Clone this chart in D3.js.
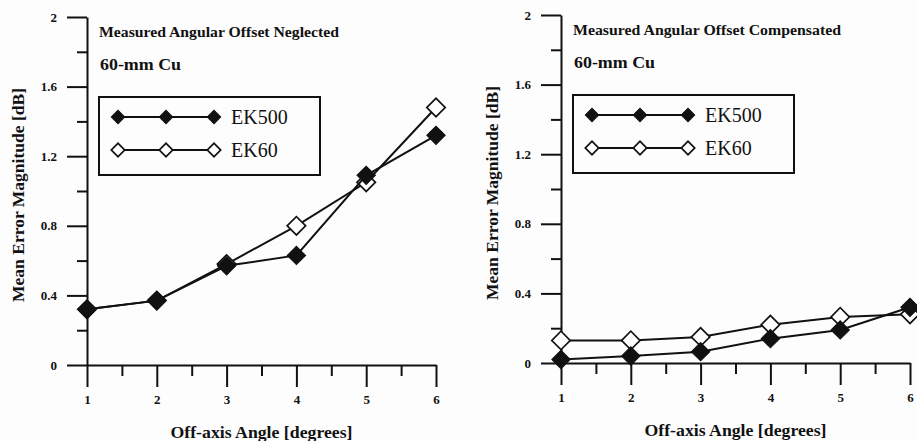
<!DOCTYPE html>
<html lang="en">
  <head>
    <meta charset="utf-8" />
    <title>Mean error magnitude vs off-axis angle</title>
    <style>
      html,
      body {
        margin: 0;
        background: #fdfdfd;
      }

      svg {
        display: block;
      }
    </style>
    <script src="https://d3js.org/d3.v7.min.js"></script>
  </head>
  <body>
    <svg width="917" height="441"></svg>

    <script>
      // values
      var angles = [1, 2, 3, 4, 5, 6];
      var neglectedEK500 = [0.32, 0.37, 0.57, 0.63, 1.09, 1.32];
      var neglectedEK60 = [0.32, 0.37, 0.58, 0.80, 1.05, 1.48];
      var compensatedEK500 = [0.02, 0.04, 0.065, 0.14, 0.19, 0.32];
      var compensatedEK60 = [0.13, 0.13, 0.15, 0.22, 0.265, 0.28];

      var seriesNames = ['EK500', 'EK60'];
      var yTicks = [0, 0.2, 0.4, 0.6, 0.8, 1, 1.2, 1.4, 1.6, 1.8, 2];
      var xTicks = [1, 1.5, 2, 2.5, 3, 3.5, 4, 4.5, 5, 5.5, 6];

      var panels = [
        { title: 'Measured Angular Offset Neglected', titleLen: 240,
          ek500: neglectedEK500, ek60: neglectedEK60,
          left: 87, right: 436, bottom: 365, top: 17 },
        { title: 'Measured Angular Offset Compensated', titleLen: 268,
          ek500: compensatedEK500, ek60: compensatedEK60,
          left: 561, right: 910, bottom: 363, top: 15 }
      ];

      var FONT = '"Liberation Serif", "Times New Roman", serif';
      var svg = d3.select('svg');

      function fmt(v) {
        return v === 0 ? '0' : v === 2 ? '2' : d3.format('.1f')(v);
      }

      function isMajorY(v) {
        return Math.abs(v / 0.4 - Math.round(v / 0.4)) < 1e-6;
      }

      function label(g, txt, size, bold) {
        return g.append('text')
          .style('font-family', FONT)
          .style('font-size', size + 'px')
          .style('font-weight', bold ? 'bold' : 'normal')
          .attr('fill', '#111')
          .text(txt);
      }

      function drawMarkers(g, pts, filled, size) {
        g.selectAll(null)
          .data(pts)
          .enter().append('path')
          .attr('d', d3.symbol(d3.symbolSquare, size))
          .attr('transform', function(d) {
            return 'translate(' + d[0] + ',' + d[1] + ') rotate(45)';
          })
          .attr('fill', filled ? '#111' : '#fff')
          .attr('stroke', '#111')
          .attr('stroke-width', filled ? 1 : 1.7);
      }

      panels.forEach(function(p) {
        var x = d3.scaleLinear().domain([1, 6]).range([p.left, p.right]);
        var y = d3.scaleLinear().domain([0, 2]).range([p.bottom, p.top]);
        var g = svg.append('g');

        // y axis: long labelled ticks every 0.4, short ones between
        var yAxis = g.append('g')
          .attr('transform', 'translate(' + p.left + ',0)')
          .call(d3.axisLeft(y).tickValues(yTicks).tickSizeOuter(0).tickFormat(fmt));
        yAxis.selectAll('.tick line')
          .attr('x2', function(d) { return isMajorY(d) ? -20 : -10; });
        yAxis.selectAll('.tick text')
          .attr('x', -30)
          .text(function(d) { return isMajorY(d) ? fmt(d) : ''; });

        // x axis: ticks hang below the line
        var xAxis = g.append('g')
          .attr('transform', 'translate(0,' + p.bottom + ')')
          .call(d3.axisBottom(x).tickValues(xTicks).tickSizeOuter(0).tickFormat(d3.format('d')));
        xAxis.selectAll('.tick line')
          .attr('y2', function(d) { return d % 1 === 0 ? 22 : 11; });
        xAxis.selectAll('.tick text')
          .attr('y', 34)
          .attr('dy', '0.35em')
          .text(function(d) { return d % 1 === 0 ? d : ''; });

        g.selectAll('.domain, .tick line')
          .attr('stroke', '#111')
          .attr('stroke-width', 2);
        g.selectAll('.tick text')
          .attr('fill', '#111')
          .style('font-family', FONT)
          .style('font-weight', 'bold')
          .style('font-size', '13px');

        // axis titles
        label(g, 'Off-axis Angle [degrees]', 17, true)
          .attr('x', (p.left + p.right) / 2)
          .attr('y', p.bottom + 67)
          .attr('dy', '0.35em')
          .attr('text-anchor', 'middle')
          .attr('textLength', 182)
          .attr('lengthAdjust', 'spacingAndGlyphs');

        label(g, 'Mean Error Magnitude [dB]', 17, true)
          .attr('transform', 'translate(' + (p.left - 69) + ',' + (p.top + 178) + ') rotate(-90)')
          .attr('dy', '0.35em')
          .attr('text-anchor', 'middle')
          .attr('textLength', 214)
          .attr('lengthAdjust', 'spacingAndGlyphs');

        // panel notes
        label(g, p.title, 14, true)
          .attr('x', p.left + 12)
          .attr('y', p.top + 20)
          .attr('textLength', p.titleLen)
          .attr('lengthAdjust', 'spacingAndGlyphs');

        label(g, '60-mm Cu', 17, true)
          .attr('x', p.left + 13)
          .attr('y', p.top + 53)
          .attr('textLength', 81)
          .attr('lengthAdjust', 'spacingAndGlyphs');

        // series, EK60 underneath
        var line = d3.line()
          .x(function(d) { return x(d[0]); })
          .y(function(d) { return y(d[1]); });
        [p.ek60, p.ek500].forEach(function(vals, i) {
          var pts = angles.map(function(a, j) { return [a, vals[j]]; });
          g.append('path')
            .datum(pts)
            .attr('d', line)
            .attr('fill', 'none')
            .attr('stroke', '#111')
            .attr('stroke-width', 2);
          drawMarkers(g, pts.map(function(d) { return [x(d[0]), y(d[1])]; }), i === 1, 170);
        });

        // legend
        var bx = p.left + 12, by = p.top + 80;
        g.append('rect')
          .attr('x', bx).attr('y', by)
          .attr('width', 221).attr('height', 78)
          .attr('fill', 'none')
          .attr('stroke', '#111')
          .attr('stroke-width', 2);
        seriesNames.forEach(function(name, i) {
          var ry = by + 20 + i * 33;
          var xs = [bx + 19, bx + 67, bx + 115];
          g.append('line')
            .attr('x1', xs[0]).attr('x2', xs[2])
            .attr('y1', ry).attr('y2', ry)
            .attr('stroke', '#111')
            .attr('stroke-width', 2);
          drawMarkers(g, xs.map(function(v) { return [v, ry]; }), i === 0, 90);
          label(g, name, 20, false)
            .attr('x', bx + 132)
            .attr('y', ry + 7);
        });
      });
    </script>
  </body>
</html>
